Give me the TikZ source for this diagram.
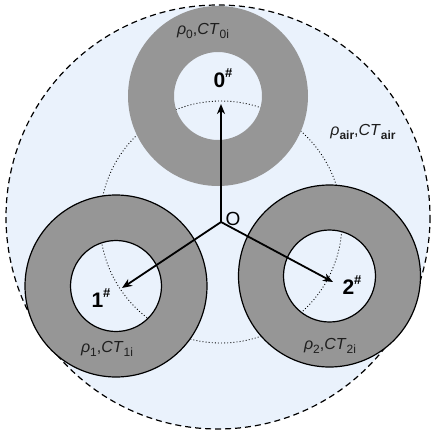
\documentclass[tikz,border=0pt]{standalone}
\usepackage{fontspec}
\setmainfont{Liberation Sans}
\usetikzlibrary{arrows.meta}
\definecolor{airblue}{RGB}{234,242,252}
\definecolor{ringgray}{RGB}{150,150,150}
\definecolor{txt}{RGB}{30,30,30}
\newcommand{\lsub}[1]{\raisebox{-0.25em}{\fontsize{12}{12}\selectfont #1}}
\newcommand{\lsup}[1]{\raisebox{0.45em}{\fontsize{13}{13}\selectfont #1}}
\begin{document}
\begin{tikzpicture}[x=1pt,y=-1pt,
  lbl/.style={text=txt,inner sep=0pt,font=\fontsize{16}{16}\selectfont},
  num/.style={text=black,inner sep=0pt,font=\fontsize{21}{21}\selectfont\bfseries},
  arr/.style={line width=1.8pt,-{Stealth[length=10pt,width=8pt,inset=3pt]}},
  ring/.style={fill=ringgray,even odd rule}]
\useasboundingbox (0,0) rectangle (431,432);
% air region
\fill[airblue] (218,217) circle (212);
\draw[line width=1.2pt,dash pattern=on 6pt off 4pt] (218,217) circle (212);
% dotted path circle
\coordinate (O) at (221,222);
\draw[line width=0.9pt,dash pattern=on 0.9pt off 2.2pt] (O) circle (121);
% rings
\fill[ring] (218,96) circle (90) (218,96) circle (44);
\filldraw[ring,draw=black,line width=1.2pt] (116,286) circle (91) (116,286) circle (45.5);
\filldraw[ring,draw=black,line width=1.2pt] (329.5,276) circle (91) (329.5,276) circle (46);
% arrows
\coordinate (t0) at (221,104);
\coordinate (t1) at (122,288);
\coordinate (t2) at (333,282);
\draw[arr] (O) -- (t0);
\draw[arr] (O) -- (t1);
\draw[arr] (O) -- (t2);
% labels
\node[inner sep=0pt,font=\fontsize{19}{19}\selectfont] (Olab) at (233,218.5) {O};
\node[num] (n0) at (223,78) {0\lsup{\#}};
\node[num] (n1) at (101,298) {1\lsup{\#}};
\node[num] (n2) at (352,285) {2\lsup{\#}};
\node[lbl] (l0) at (203,31) {\textit{ρ}\lsub{0},\textit{CT}\lsub{0i}};
\node[lbl] (l1) at (107,349) {\textit{ρ}\lsub{1},\textit{CT}\lsub{1i}};
\node[lbl] (l2) at (330,346) {\textit{ρ}\lsub{2},\textit{CT}\lsub{2i}};
\node[lbl] (la) at (363,132) {\textit{ρ}\lsub{\bfseries air},\textit{CT}\lsub{\bfseries air}};
\end{tikzpicture}
\end{document}
